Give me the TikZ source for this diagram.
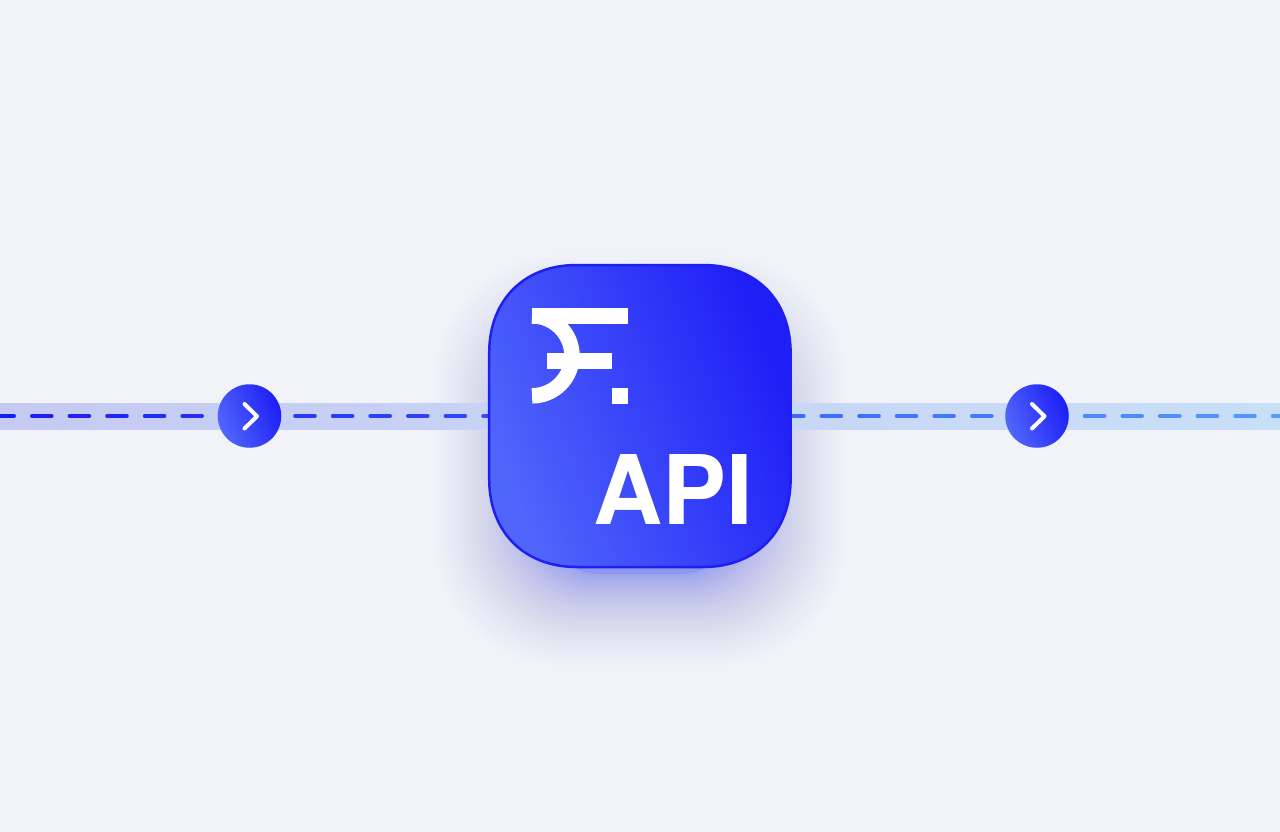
\documentclass[tikz,border=0pt]{standalone}
\usepackage{fontspec}
\setmainfont{TeX Gyre Heros}
\usetikzlibrary{positioning}
\definecolor{bgGrey}{HTML}{F1F3F9}
\definecolor{gradLight}{HTML}{5066FB}
\definecolor{gradDark}{HTML}{1E1EF6}
\definecolor{cardLine}{HTML}{1F1FF2}
\definecolor{bandLeft}{HTML}{C6CAF3}
\definecolor{bandRight}{HTML}{C8DFF8}
\definecolor{dashLeft}{HTML}{1C1CF5}
\definecolor{dashRight}{HTML}{559BFF}
\definecolor{glow}{HTML}{2436EC}
\tikzset{
  gradBlue/.style={left color=gradLight,right color=gradDark,shading angle=112},
  roundBtn/.style={circle,minimum size=63.5pt,inner sep=0pt,gradBlue},
  whitePen/.style={white,line width=4pt,line cap=round,line join=round}
}
\begin{document}
\begin{tikzpicture}[x=1pt,y=-1pt]
\useasboundingbox (0,0) rectangle (1280,832);
\fill[bgGrey] (0,0) rectangle (1280,832);
%weicher Schatten unter der Karte
\foreach \i in {0,...,59}{
  \pgfmathsetmacro{\gs}{100+105*(1-\i/60)^2.4}
  \pgfmathsetmacro{\gc}{460+15*\i/60}
  \pgfmathsetmacro{\gr}{\gs*0.62}
  \fill[glow,opacity=0.0075,rounded corners=\gr pt] (640-\gs,\gc-\gs) rectangle (640+\gs,\gc+\gs);
}
\shade[left color=bandLeft,right color=bandRight] (0,403.3) rectangle (1280,429);
%Striche einzeln wegen Farbverlauf
\foreach \k in {0,...,34}{
  \pgfmathsetmacro{\xd}{-7.6+37.6*\k}
  \pgfmathtruncatemacro{\pct}{max(0,min(100,\xd/12.8))}
  \draw[color={dashRight!\pct!dashLeft},line width=4pt,line cap=round] (\xd+2,416) -- (\xd+21.6,416);
}
\foreach \xpos/\name in {249.5/btnLeft,1037/btnRight}{
  \node[roundBtn] (\name) at (\xpos,416) {};
  \draw[whitePen] (\xpos-5,404) -- (\xpos+7.5,416.3) -- (\xpos-5,428.5);
}
%Karte
\draw[gradBlue,draw=cardLine,line width=2.5pt]
  (489.2,353) .. controls (489.2,300) and (524,265) .. (577,265)
  -- (703,265) .. controls (756,265) and (790.6,300) .. (790.6,353)
  -- (790.6,479) .. controls (790.6,532) and (756,567) .. (703,567)
  -- (577,567) .. controls (524,567) and (489.2,532) .. (489.2,479) -- cycle;
%Logo
\draw[white,line width=15.5pt] (532,315.8) arc (-90:90:40);
\fill[white] (532,308) rectangle (627.5,323.5);
\fill[white] (547.3,353.3) rectangle (611.7,369);
\fill[white] (612,388.3) rectangle (627.5,403.5);
\node[white,font=\bfseries\fontsize{96}{96}\selectfont,anchor=base east,inner sep=0pt] (apiLabel) at (753.5,524.3) {API};
\end{tikzpicture}
\end{document}
